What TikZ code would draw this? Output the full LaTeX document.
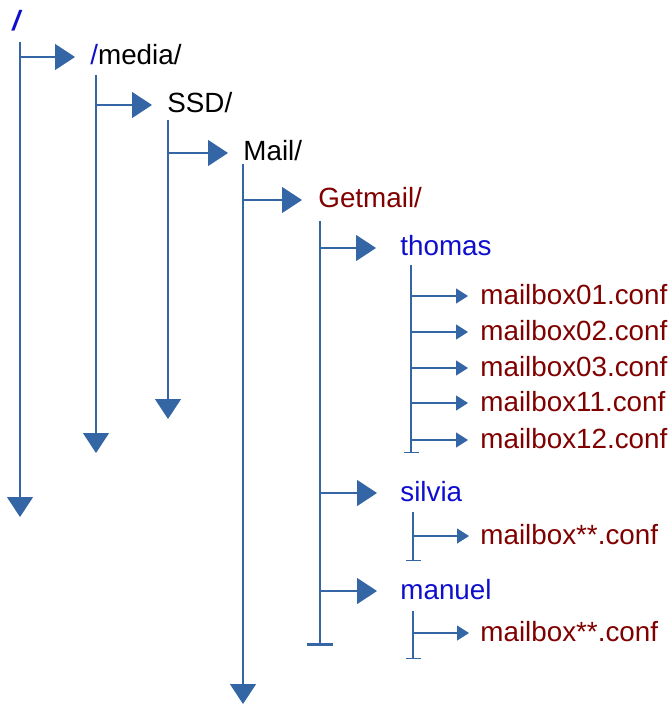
\documentclass[tikz,border=0pt]{standalone}
\usepackage{fontspec}
\setmainfont{Liberation Sans}
\usetikzlibrary{arrows.meta}
\definecolor{lineblue}{HTML}{3465A4}
\definecolor{dirblue}{HTML}{0E0ECC}
\definecolor{filered}{HTML}{800000}
\begin{document}
\begin{tikzpicture}
[
x=0.5pt, y=-0.5pt,
line/.style={draw=lineblue, line width=0.6pt},
bigarrow/.style={line, -{Triangle[length=10pt,width=13pt]}},
smallarrow/.style={line, -{Triangle[length=6pt,width=7.5pt]}},
bigstop/.style={line, -{Bar[width=13pt,line width=1.5pt]}},
smallstop/.style={line, -{Bar[width=7.5pt,line width=0.6pt]}},
dir/.style={anchor=west, inner sep=0pt, text height=0.8em, text depth=0pt, font=\fontsize{13.9pt}{16pt}\selectfont},
]
\useasboundingbox (0,0) rectangle (669,705);

\node at (12,23) [dir, text=dirblue, font=\fontsize{13.9pt}{16pt}\selectfont\bfseries\itshape] (root) {/};
\node at (90,57) [dir]                 (media)    {\textcolor{dirblue}{/}media/};
\node at (167,105) [dir]               (ssd)      {SSD/};
\node at (243,153) [dir]               (mail)     {Mail/};
\node at (318,200) [dir, text=filered] (getmail)  {Getmail/};
\node at (400,248) [dir, text=dirblue] (thomas)   {thomas};
\node at (400,493) [dir, text=dirblue] (silvia)   {silvia};
\node at (400,591) [dir, text=dirblue] (manuel)   {manuel};
\node at (480,296) [dir, text=filered] (thomasA)  {mailbox01.conf};
\node at (480,332) [dir, text=filered] (thomasB)  {mailbox02.conf};
\node at (480,368) [dir, text=filered] (thomasC)  {mailbox03.conf};
\node at (480,403) [dir, text=filered] (thomasD)  {mailbox11.conf};
\node at (480,440) [dir, text=filered] (thomasE)  {mailbox12.conf};
\node at (480,536) [dir, text=filered] (silviaA)  {mailbox**.conf};
\node at (480,633) [dir, text=filered] (manuelA)  {mailbox**.conf};

\coordinate (rootstem)    at (20,42);
\coordinate (rootend)     at (20,517);
\coordinate (mediastem)   at (96,75);
\coordinate (mediaend)    at (96,453);
\coordinate (ssdstem)     at (168,120);
\coordinate (ssdend)      at (168,419);
\coordinate (mailstem)    at (243,164);
\coordinate (mailend)     at (243,704);
\coordinate (getmailstem) at (320,221);
\coordinate (getmailend)  at (320,646);
\coordinate (thomasstem)  at (411,265);
\coordinate (thomasend)   at (411,453);
\coordinate (silviastem)  at (413,512);
\coordinate (silviaend)   at (413,561);
\coordinate (manuelstem)  at (413,611);
\coordinate (manuelend)   at (413,659);

\draw[bigarrow] (rootstem) -- (rootend);
\draw[bigarrow] (mediastem) -- (mediaend);
\draw[bigarrow] (ssdstem) -- (ssdend);
\draw[bigarrow] (mailstem) -- (mailend);
\draw[bigstop] (getmailstem) -- (getmailend);
\draw[smallstop] (thomasstem) -- (thomasend);
\draw[smallstop] (silviastem) -- (silviaend);
\draw[smallstop] (manuelstem) -- (manuelend);

\draw[bigarrow] (rootstem |- media.west) -- ([xshift=-7.5pt]media.west);
\draw[bigarrow] (mediastem |- ssd.west) -- ([xshift=-7.5pt]ssd.west);
\draw[bigarrow] (ssdstem |- mail.west) -- ([xshift=-7.5pt]mail.west);
\draw[bigarrow] (mailstem |- getmail.west) -- ([xshift=-8pt]getmail.west);
\draw[bigarrow] (getmailstem |- thomas.west) -- ([xshift=-12pt]thomas.west);
\draw[bigarrow] (getmailstem |- silvia.west) -- ([xshift=-11.5pt]silvia.west);
\draw[bigarrow] (getmailstem |- manuel.west) -- ([xshift=-11.5pt]manuel.west);
\draw[smallarrow] (thomasstem |- thomasA.west) -- ([xshift=-6pt]thomasA.west);
\draw[smallarrow] (thomasstem |- thomasB.west) -- ([xshift=-6pt]thomasB.west);
\draw[smallarrow] (thomasstem |- thomasC.west) -- ([xshift=-6pt]thomasC.west);
\draw[smallarrow] (thomasstem |- thomasD.west) -- ([xshift=-6pt]thomasD.west);
\draw[smallarrow] (thomasstem |- thomasE.west) -- ([xshift=-6pt]thomasE.west);
\draw[smallarrow] (silviastem |- silviaA.west) -- ([xshift=-5.5pt]silviaA.west);
\draw[smallarrow] (manuelstem |- manuelA.west) -- ([xshift=-5.5pt]manuelA.west);
\end{tikzpicture}
\end{document}
